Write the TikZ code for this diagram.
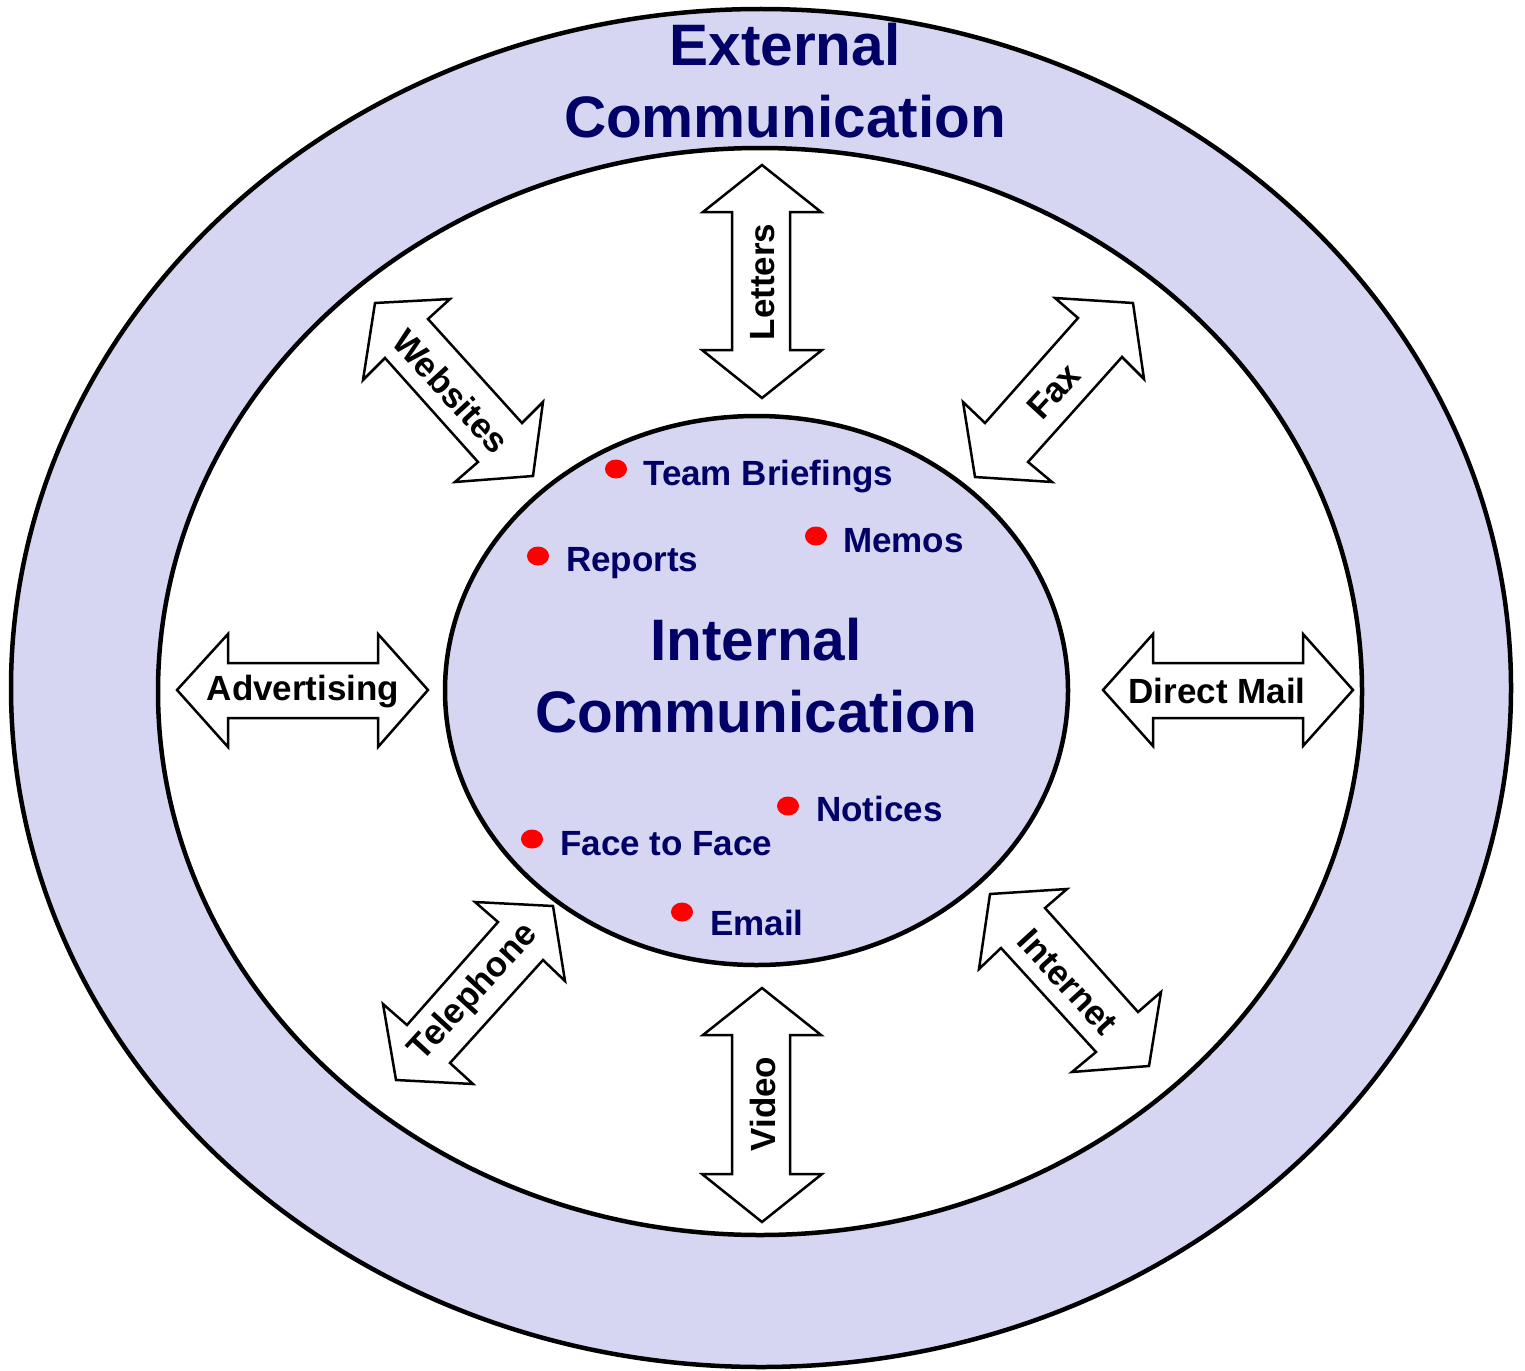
\documentclass[tikz,border=0pt]{standalone}
\usepackage{fontspec}
\setmainfont{Liberation Sans}
\definecolor{lav}{HTML}{D6D6F3}
\definecolor{navy}{HTML}{000066}
\definecolor{dotred}{HTML}{FF0000}
\begin{document}
\begin{tikzpicture}[x=1pt,y=-1pt,
  ring/.style={draw=black,line width=4.5pt},
  dblarrow/.style={draw=black,fill=white,line width=2.5pt,line join=miter},
  arrowlabel/.style={font=\fontsize{35}{38}\selectfont\bfseries,text=black,inner sep=0pt},
  item/.style={font=\fontsize{35}{38}\selectfont\bfseries,text=navy,anchor=base west,inner sep=0pt},
  bullet/.style={fill=dotred,draw=none},
  title/.style={font=\fontsize{58.5}{70}\selectfont\bfseries,text=navy,align=center,inner sep=0pt}]
\useasboundingbox (0,0) rectangle (1525,1370);

% rings
\draw[ring,fill=lav] (761,688) ellipse [x radius=750,y radius=679];
\draw[ring,fill=white] (760,691.5) ellipse [x radius=602,y radius=543.5];
\draw[ring,fill=lav] (756.5,690.5) ellipse [x radius=311.5,y radius=274.5];

% double arrows
\draw[dblarrow] (762,165) -- (821,212) -- (790,212) -- (790,350) -- (822,350) -- (762,398)
  -- (702,350) -- (732,350) -- (732,212) -- (703,212) -- cycle;
\draw[dblarrow] (762,988) -- (821,1035) -- (790,1035) -- (790,1174) -- (822,1174) -- (762,1222)
  -- (702,1174) -- (732,1174) -- (732,1035) -- (703,1035) -- cycle;
\draw[dblarrow] (177,690) -- (228,634) -- (228,663) -- (378,663) -- (378,634) -- (428,690)
  -- (378,747) -- (378,718) -- (228,718) -- (228,747) -- cycle;
\draw[dblarrow] (1103,690) -- (1153,634) -- (1153,663) -- (1303,663) -- (1303,634) -- (1353,690)
  -- (1303,746) -- (1303,718) -- (1153,718) -- (1153,746) -- cycle;
\draw[dblarrow] (375,303) -- (450,299) -- (428,319) -- (522,423) -- (543,402) -- (533,476)
  -- (455,482) -- (478,462) -- (385,358) -- (363,380) -- cycle;
\draw[dblarrow] (1133,303) -- (1144,379) -- (1122,357) -- (1028,462) -- (1052,482) -- (975,477)
  -- (963,402) -- (985,423) -- (1078,318) -- (1055,298) -- cycle;
\draw[dblarrow] (553,906) -- (565,981) -- (543,960) -- (450,1063) -- (473,1084) -- (396,1080)
  -- (383,1004) -- (407,1025) -- (498,922) -- (475,902) -- cycle;
\draw[dblarrow] (990,894) -- (1067,889) -- (1045,908) -- (1138,1012) -- (1161,992) -- (1149,1066)
  -- (1072,1072) -- (1096,1052) -- (1001,948) -- (979,969) -- cycle;

% arrow labels
\node[arrowlabel,rotate=90] (letters) at (763,282) {Letters};
\node[arrowlabel,rotate=90] (video) at (763,1104) {Video};
\node[arrowlabel] (advertising) at (303,692) {Advertising};
\node[arrowlabel] (directmail) at (1217,691) {Direct Mail};
\node[arrowlabel,rotate=-47.5] (websites) at (451,391) {Websites};
\node[arrowlabel,rotate=47.5] (fax) at (1054,391) {Fax};
\node[arrowlabel,rotate=47.5] (telephone) at (474,993) {Telephone};
\node[arrowlabel,rotate=-47.5] (internet) at (1068,982) {Internet};

% titles
\node[title,anchor=base] (ext1) at (785,66) {External};
\node[title,anchor=base] (ext2) at (785,137) {Communication};
\node[title,anchor=base] (int1) at (756,660) {Internal};
\node[title,anchor=base] (int2) at (756,732) {Communication};

% internal channels
\fill[bullet] (616,469) ellipse [x radius=11,y radius=9.5];
\node[item] (briefings) at (643,485) {Team Briefings};
\fill[bullet] (816,536) ellipse [x radius=11,y radius=9.5];
\node[item] (memos) at (843,552) {Memos};
\fill[bullet] (538,556) ellipse [x radius=11,y radius=9.5];
\node[item] (reports) at (566,571) {Reports};
\fill[bullet] (788,806) ellipse [x radius=11,y radius=9.5];
\node[item] (notices) at (816,821) {Notices};
\fill[bullet] (532,839) ellipse [x radius=11,y radius=9.5];
\node[item] (facetoface) at (560,855) {Face to Face};
\fill[bullet] (682,912) ellipse [x radius=11,y radius=9.5];
\node[item] (email) at (710,935) {Email};
\end{tikzpicture}
\end{document}
